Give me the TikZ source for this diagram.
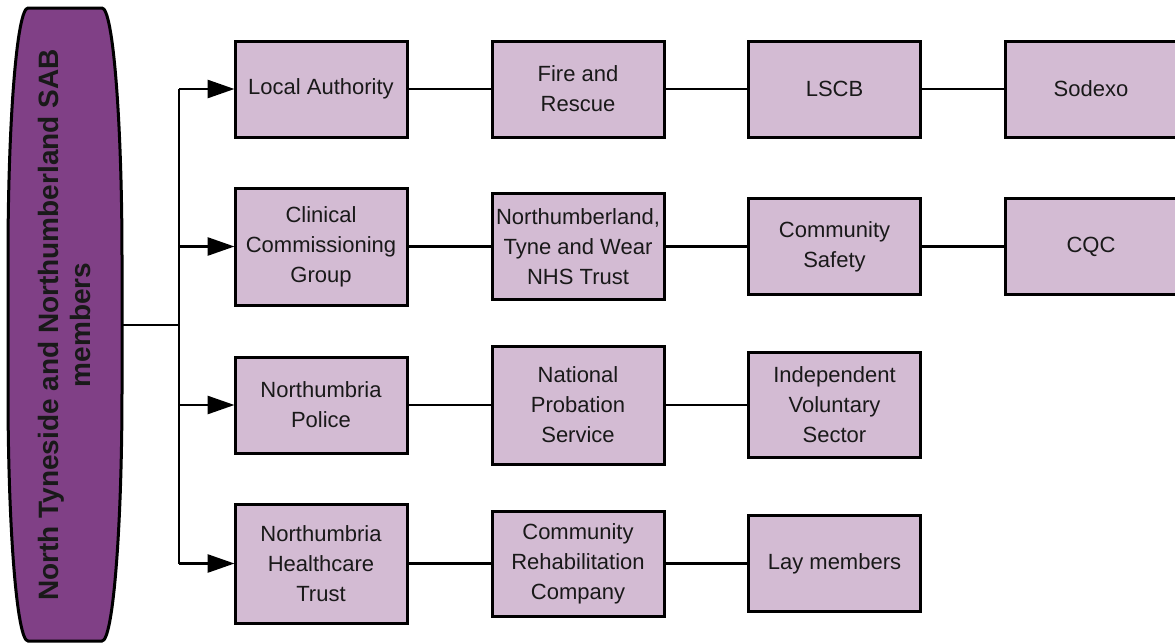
\documentclass[tikz,border=0pt]{standalone}
\usepackage{fontspec}
\setmainfont{Liberation Sans}
\usetikzlibrary{arrows.meta}
\definecolor{sabpurple}{RGB}{128,64,134}
\definecolor{boxfill}{RGB}{211,187,211}
\tikzset{
  member/.style={draw=black, line width=3pt, fill=boxfill, minimum width=172pt,
    inner sep=0pt, align=center, font=\fontsize{22}{30}\selectfont, text=black!90},
  link/.style={line width=2.8pt, draw=black},
  feed/.style={line width=2.8pt, draw=black, -{Triangle[length=27pt,width=18pt]}, shorten >=-1pt}
}
\begin{document}
\begin{tikzpicture}[x=1pt,y=-1pt]
\useasboundingbox (0,0) rectangle (1175,643);
\clip (0,0) rectangle (1175,643);
% SAB shape
\draw[line width=3pt, fill=sabpurple]
  (28,8) -- (102,8) .. controls (113,8) and (122,120) .. (122,258)
  -- (122,391) .. controls (122,529) and (113,641) .. (102,641)
  -- (28,641) .. controls (17,641) and (8,529) .. (8,391)
  -- (8,258) .. controls (8,120) and (17,8) .. (28,8) -- cycle;
\node (sab) [rotate=90, align=center, font=\bfseries\fontsize{28}{32}\selectfont, text=black!90] at (64,325)
  {North Tyneside and Northumberland SAB\\members};
\coordinate (sabE) at (122,325);
\coordinate (hub) at (179,325);
\coordinate (top) at (179,89);
\coordinate (bot) at (179,563.5);
% column 1
\node[member, minimum height=96pt]  (la)  at (321,89)    {Local Authority};
\node[member, minimum height=117pt] (ccg) at (321,246.5) {Clinical\\Commissioning\\Group};
\node[member, minimum height=96pt]  (np)  at (321,405)   {Northumbria\\Police};
\node[member, minimum height=119pt] (nht) at (321,563.5) {Northumbria\\Healthcare\\Trust};
% column 2
\node[member, minimum height=96pt]  (fr)  at (578,89)    {Fire and\\Rescue};
\node[member, minimum height=106pt] (ntw) at (578,246.5) {Northumberland,\\Tyne and Wear\\NHS Trust};
\node[member, minimum height=118pt] (nps) at (578,405)   {National\\Probation\\Service};
\node[member, minimum height=105pt] (crc) at (578,563.5) {Community\\Rehabilitation\\Company};
% column 3
\node[member, minimum height=96pt]  (lscb) at (834.5,89)    {LSCB};
\node[member, minimum height=96pt]  (cs)   at (834.5,246.5) {Community\\Safety};
\node[member, minimum height=105pt] (ivs)  at (834.5,405)   {Independent\\Voluntary\\Sector};
\node[member, minimum height=96pt]  (lay)  at (834.5,563.5) {Lay members};
% column 4
\node[member, minimum height=96pt]  (sod) at (1091,89)    {Sodexo};
\node[member, minimum height=96pt]  (cqc) at (1091,246.5) {CQC};
% connectors
\draw[link] (sabE) -- (hub);
\draw[link] (top) -- (bot);
\draw[feed] (top) -- (la.west);
\draw[feed] (ccg.west -| hub) -- (ccg.west);
\draw[feed] (np.west -| hub) -- (np.west);
\draw[feed] (bot) -- (nht.west);
\draw[link] (la) -- (fr);
\draw[link] (fr) -- (lscb);
\draw[link] (lscb) -- (sod);
\draw[link] (ccg) -- (ntw);
\draw[link] (ntw) -- (cs);
\draw[link] (cs) -- (cqc);
\draw[link] (np) -- (nps);
\draw[link] (nps) -- (ivs);
\draw[link] (nht) -- (crc);
\draw[link] (crc) -- (lay);
\end{tikzpicture}
\end{document}
